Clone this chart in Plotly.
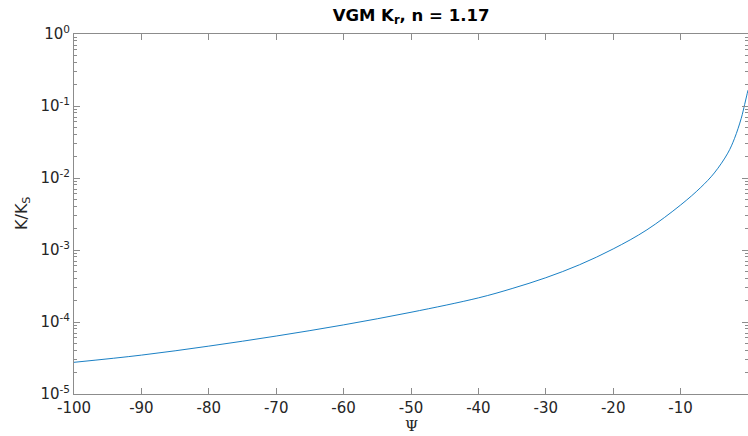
import plotly.graph_objects as go

# Values (psi, log10(K/Ks))
psi = [-100, -90, -80, -70, -60, -50, -40, -35, -30, -25, -20, -15, -10, -7, -5, -3, -2, -1, -0.5, -0.2, 0]
log_kr = [-4.56, -4.46, -4.335, -4.195, -4.04, -3.865, -3.665, -3.535, -3.385, -3.205, -2.985,
          -2.72, -2.375, -2.13, -1.93, -1.655, -1.45, -1.17, -0.98, -0.86, -0.78]
kr = [10 ** v for v in log_kr]

x_ticks = [-100, -90, -80, -70, -60, -50, -40, -30, -20, -10, 0]
y_ticks = [1e-5, 1e-4, 1e-3, 1e-2, 1e-1, 1e0]
y_tick_text = ["10<sup>-5</sup>", "10<sup>-4</sup>", "10<sup>-3</sup>",
               "10<sup>-2</sup>", "10<sup>-1</sup>", "10<sup>0</sup>"]
y_minor = [m * 10 ** e for e in range(-5, 0) for m in range(2, 10)]

axis_col = "#8c8c8c"
text_col = "#262626"
font = "DejaVu Sans"

fig = go.Figure()
fig.add_trace(go.Scatter(x=psi, y=kr, mode="lines", line=dict(color="#0072BD", width=0.9),
                         line_shape="spline", showlegend=False))

fig.update_layout(
    width=748, height=436,
    margin=dict(l=74, r=0, t=34, b=42, autoexpand=False),
    paper_bgcolor="white", plot_bgcolor="white",
    font=dict(family=font, size=15, color=text_col),
    title=dict(text="<b>VGM K<sub>r</sub>, n = 1.17</b>", x=0.5495, xanchor="center",
               y=0.966, yanchor="middle", font=dict(size=16.5, color="#000000")),
    annotations=[
        dict(text="Ψ", x=0.5, y=-(426 - 394) / 360, xref="paper", yref="paper",
             xanchor="center", yanchor="middle", showarrow=False,
             font=dict(family="DejaVu Serif", size=15, color=text_col)),
        dict(text="K/K<sub>S</sub>", x=-(74 - 22) / 674, y=0.5, xref="paper", yref="paper",
             xanchor="center", yanchor="middle", showarrow=False, textangle=-90,
             font=dict(size=16, color=text_col)),
    ],
)
fig.update_xaxes(
    range=[-100, 0], tickvals=x_ticks, ticktext=[str(v) for v in x_ticks],
    showline=True, linecolor=axis_col, linewidth=1, mirror="ticks",
    ticks="inside", ticklen=6, tickcolor=axis_col, showgrid=False, zeroline=False,
    automargin=False,
)
fig.update_yaxes(
    type="log", range=[-5, 0], tickvals=y_ticks, ticktext=y_tick_text,
    showline=True, linecolor=axis_col, linewidth=1, mirror="ticks",
    ticks="inside", ticklen=6, tickcolor=axis_col, showgrid=False, zeroline=False,
    minor=dict(tickvals=y_minor, ticks="inside", ticklen=3, tickcolor=axis_col, showgrid=False),
    automargin=False,
)

fig.write_html("out.html", config={"displayModeBar": False},
               post_script="document.body.style.margin='0';document.body.style.overflow='hidden';")
